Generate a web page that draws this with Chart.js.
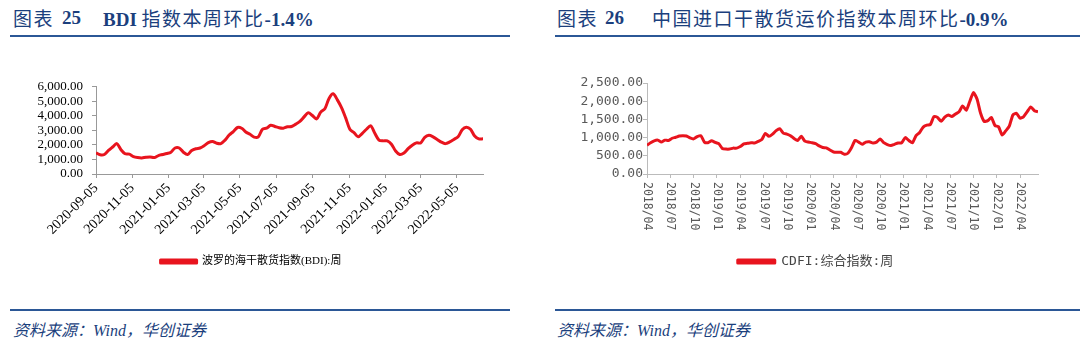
<!DOCTYPE html>
<html><head><meta charset="utf-8">
<script src="https://cdn.jsdelivr.net/npm/chart.js@4.4.0/dist/chart.umd.min.js"></script>
<style>
body{margin:0;width:1080px;height:355px;background:#fff;position:relative;overflow:hidden;font-family:"Liberation Serif","Noto Sans CJK SC",serif;}
.t{position:absolute;top:6px;color:#1b3f7d;font-size:19px;line-height:24px;white-space:nowrap;}
.t b{font-family:"Liberation Serif";font-weight:bold;}
.cjk{font-family:"Noto Sans CJK SC";font-weight:400;letter-spacing:1.5px}
.rule{position:absolute;height:2px;background:#2b5796;}
.src{position:absolute;top:320px;font-size:16px;line-height:22px;font-style:italic;color:#1b3f7d;font-family:"Liberation Serif","Noto Sans CJK SC";white-space:nowrap;}
.cv{position:absolute;}
</style></head>
<body>
<div class="t" style="left:13px"><span class="cjk">图表</span></div>
<div class="t" style="left:62px"><b>25</b></div>
<div class="t" style="left:103px"><b>BDI</b> <span class="cjk">指数本周环比</span><b>-1.4%</b></div>
<div class="t" style="left:557px"><span class="cjk">图表</span></div>
<div class="t" style="left:605px"><b>26</b></div>
<div class="t" style="left:652px"><span class="cjk">中国进口干散货运价指数本周环比</span><b>-0.9%</b></div>
<div class="rule" style="left:10px;width:500px;top:35px"></div>
<div class="rule" style="left:555px;width:525px;top:35px"></div>
<div class="rule" style="left:10px;width:500px;top:309px"></div>
<div class="rule" style="left:555px;width:525px;top:309px"></div>
<div class="src" style="left:13px">资料来源：Wind，华创证券</div>
<div class="src" style="left:557px">资料来源：Wind，华创证券</div>
<canvas id="c1" class="cv" width="510" height="205" style="left:0;top:70px;width:510px;height:205px"></canvas>
<canvas id="c2" class="cv" width="535" height="205" style="left:545px;top:70px;width:535px;height:205px"></canvas>
<script>
// ---- BDI weekly (start 2020-09-05) ----
const bdiStart = '2020-09-05';
const bdiValues = [1460,1320,1340,1620,1860,2090,1670,1390,1365,1200,1130,1105,1150,1175,1130,1270,1340,1410,1500,1790,1790,1500,1340,1620,1740,1790,1950,2160,2240,2120,2090,2330,2680,2920,3200,3150,2890,2730,2540,2560,3080,3150,3360,3270,3180,3150,3250,
3270,3430,3620,3930,4210,4020,3790,4260,4490,5200,5520,5100,4570,3860,3080,2850,2560,2800,3080,3320,2800,2330,2280,2280,2050,1580,1340,1440,1740,1980,2140,2140,2520,2660,2560,2380,2190,2090,2210,2380,2560,3040,3220,3080,2610,2420,2420];
const bdiTickLabels = ['2020-09-05','2020-11-05','2021-01-05','2021-03-05','2021-05-05','2021-07-05','2021-09-05','2021-11-05','2022-01-05','2022-03-05','2022-05-05'];
const bdiYTicks = [0,1000,2000,3000,4000,5000,6000];

// ---- CDFI biweekly samples (start 2018/04) ----
const cdfiValues = [790,860,912,930,877,930,921,982,1009,1044,1053,1044,991,965,1026,1053,877,860,912,868,833,702,684,684,711,711,754,825,842,860,851,895,947,1114,1035,1096,1193,1246,1123,1096,1053,974,921,1035,904,877,860,833,772,728,719,658,605,596,
596,544,570,719,921,877,816,877,886,851,877,965,860,807,781,816,851,860,1000,921,860,1053,1140,1289,1342,1360,1579,1553,1447,1561,1623,1579,1649,1711,1868,1754,2000,2237,2061,1667,1447,1465,1553,1333,1298,1070,1184,1316,1623,1667,1535,1579,1711,1842,1737,1711];
const cdfiTickLabels = ['2018/04','2018/07','2018/10','2019/01','2019/04','2019/07','2019/10','2020/01','2020/04','2020/07','2020/10','2021/01','2021/04','2021/07','2021/10','2022/01','2022/04'];
const cdfiYTicks = [0,500,1000,1500,2000,2500];

const DAY = 86400000;
const dayOf = s => Math.round((Date.parse(s) - Date.parse(bdiStart)) / DAY);
const fmt = v => Number(v).toLocaleString('en-US',{minimumFractionDigits:2,maximumFractionDigits:2});
const RED = '#e8141e';

const shiftLegend = {id:'shiftLegend', afterLayout(chart, args, opts){
  const l = chart.legend; if(!l) return;
  l.left += opts.dx||0; l.right += opts.dx||0; l.top += opts.dy||0; l.bottom += opts.dy||0;
}};

new Chart(document.getElementById('c1'), {
  type:'line',
  data:{datasets:[{label:'波罗的海干散货指数(BDI):周', data:bdiValues.map((v,i)=>({x:i*7,y:v})), borderColor:RED, backgroundColor:RED, borderWidth:3, pointRadius:0, tension:0.3, borderJoinStyle:'round'}]},
  options:{responsive:false, animation:false, devicePixelRatio:1,
    layout:{padding:{left:17,right:27,top:13,bottom:0}},
    plugins:{legend:{position:'bottom',labels:{boxWidth:36,boxHeight:3,padding:8,color:'#000',font:{family:'"Liberation Serif","Noto Sans CJK SC"',size:11}}},tooltip:{enabled:false},shiftLegend:{dx:1,dy:2}},
    scales:{
      x:{type:'linear',min:0,max:(bdiValues.length-1)*7,
        afterBuildTicks:a=>{a.ticks=bdiTickLabels.map(l=>({value:dayOf(l)}));},
        afterFit:a=>{a.height=72;},
        ticks:{autoSkip:false,minRotation:45,maxRotation:45,padding:2,color:'#000',font:{family:'"Liberation Serif"',size:14},callback:(v,i)=>bdiTickLabels[i]},
        grid:{drawOnChartArea:false,drawTicks:true,tickLength:4,color:'#999'},border:{color:'#999'}},
      y:{min:0,max:6000,
        afterBuildTicks:a=>{a.ticks=bdiYTicks.map(v=>({value:v}));},
        afterFit:a=>{a.width=79;},
        ticks:{autoSkip:false,padding:9,color:'#000',font:{family:'"Liberation Serif"',size:13},callback:v=>fmt(v)},
        grid:{drawOnChartArea:false,drawTicks:true,tickLength:4,color:'#999'},border:{color:'#999'}}
    }},
  plugins:[shiftLegend]
});

const vertLabels = {id:'vertLabels', afterDraw(chart){
  const s = chart.scales.x, ctx = chart.ctx;
  ctx.save();
  ctx.font = '11.5px "DejaVu Sans Mono"'; ctx.fillStyle = '#595959';
  ctx.textAlign = 'left'; ctx.textBaseline = 'middle';
  cdfiTickLabels.forEach((lab,k)=>{
    const px = s.getPixelForValue(k*13);
    ctx.save(); ctx.translate(px, s.top + 8); ctx.rotate(Math.PI/2); ctx.fillText(lab,0,0); ctx.restore();
  });
  ctx.restore();
}};

new Chart(document.getElementById('c2'), {
  type:'line',
  data:{datasets:[{label:'CDFI:综合指数:周', data:cdfiValues.map((v,i)=>({x:i*2,y:v})), borderColor:RED, backgroundColor:RED, borderWidth:3, pointRadius:0, tension:0.2, borderJoinStyle:'round'}]},
  options:{responsive:false, animation:false, devicePixelRatio:1,
    layout:{padding:{left:30,right:42,top:13,bottom:0}},
    plugins:{legend:{position:'bottom',labels:{boxWidth:37,boxHeight:3,padding:8,color:'#444',font:{family:'"DejaVu Sans Mono","Noto Sans CJK SC"',size:13}}},tooltip:{enabled:false},shiftLegend:{dx:9,dy:3}},
    scales:{
      x:{type:'linear',min:0,max:(cdfiValues.length-1)*2,
        afterBuildTicks:a=>{a.ticks=cdfiTickLabels.map((l,k)=>({value:k*13}));},
        afterFit:a=>{a.height=70;},
        ticks:{display:false},
        grid:{drawOnChartArea:false,drawTicks:true,tickLength:4,color:'#bbb'},border:{color:'#bbb'}},
      y:{min:0,max:2500,
        afterBuildTicks:a=>{a.ticks=cdfiYTicks.map(v=>({value:v}));},
        afterFit:a=>{a.width=72;},
        ticks:{autoSkip:false,padding:0,color:'#595959',font:{family:'"DejaVu Sans Mono"',size:13},callback:v=>fmt(v)},
        grid:{drawOnChartArea:false,drawTicks:true,tickLength:4,color:'#bbb'},border:{color:'#bbb'}}
    }},
  plugins:[vertLabels, shiftLegend]
});
</script>
</body></html>
